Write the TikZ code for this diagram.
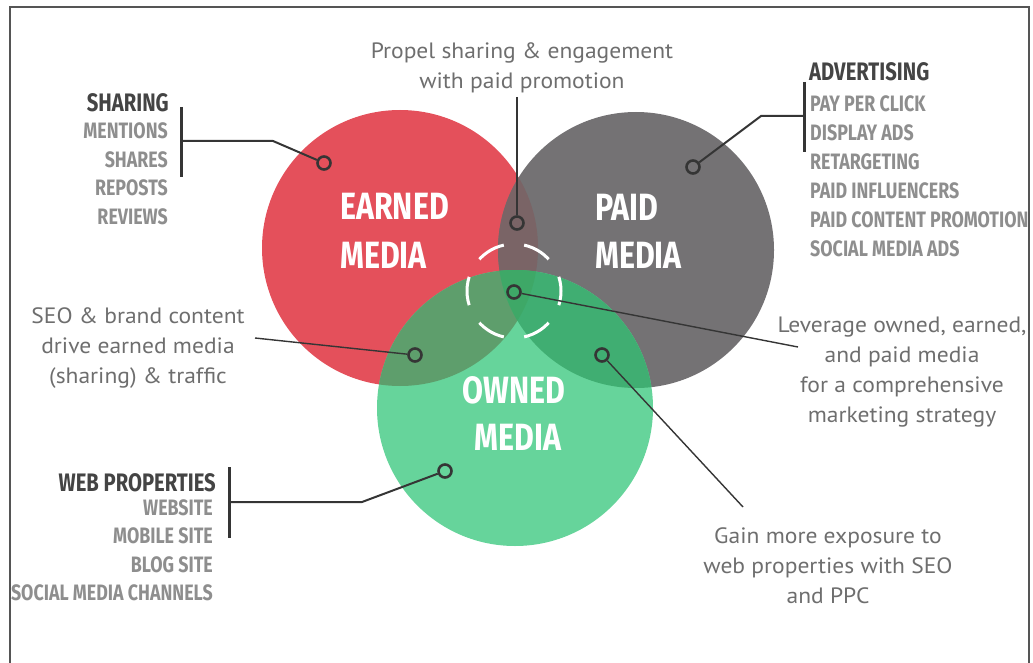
\documentclass[tikz,border=0pt]{standalone}
\usepackage{fontspec}
\setmainfont{PT Sans}
\newfontfamily\headfont[FakeStretch=0.8]{Fira Sans}
\newfontfamily\notefont[FakeStretch=1.06]{PT Sans}

\definecolor{earned}{HTML}{E4505B}
\definecolor{paid}{HTML}{747274}
\definecolor{owned}{HTML}{66D49B}
\definecolor{earnpaid}{HTML}{7A6466}
\definecolor{earnown}{HTML}{5E9E6C}
\definecolor{paidown}{HTML}{40AE72}
\definecolor{allthree}{HTML}{3EA867}
\definecolor{ink}{HTML}{353535}
\definecolor{listgrey}{HTML}{8E8E8E}
\definecolor{headgrey}{HTML}{444444}
\definecolor{notegrey}{HTML}{6E6E6E}
\definecolor{framegrey}{HTML}{555555}

\tikzset{
  dot/.style={circle, draw=ink, line width=2.6pt, minimum size=13pt, inner sep=0pt},
  lead/.style={draw=ink, line width=2pt},
  thinlead/.style={draw=ink, line width=1.4pt},
  bar/.style={draw=ink, line width=3pt},
  bighead/.style={text=white, font=\headfont\bfseries\fontsize{38}{38}\selectfont, inner sep=0pt},
  listhead/.style={text=headgrey, font=\headfont\bfseries\fontsize{25.3}{25}\selectfont, inner sep=0pt},
  listitem/.style={text=listgrey, font=\headfont\bfseries\fontsize{22.3}{22}\selectfont, inner sep=0pt},
  note/.style={text=notegrey, align=center, font=\notefont\fontsize{22.2}{30}\selectfont, inner sep=0pt},
}

\begin{document}
\begin{tikzpicture}[x=1pt, y=-1pt]
\useasboundingbox (0,0) rectangle (1033,663);

% open frame
\draw[framegrey, line width=2pt] (9.5,663) -- (9.5,7.5) -- (1029,7.5) -- (1029,663);

% the three circles and their overlaps
\coordinate (E) at (400,248);
\coordinate (P) at (636,250);
\coordinate (O) at (515,408);
\def\R{138}
\fill[earned] (E) circle (\R);
\fill[paid] (P) circle (\R);
\fill[owned] (O) circle (\R);
\begin{scope}
  \clip (E) circle (\R);
  \fill[earnpaid] (P) circle (\R);
  \fill[earnown] (O) circle (\R);
\end{scope}
\begin{scope}
  \clip (P) circle (\R);
  \fill[paidown] (O) circle (\R);
  \clip (O) circle (\R);
  \fill[allthree] (E) circle (\R);
\end{scope}

% dashed ring around the common area
\draw[white, line width=3pt, dash pattern=on 28.7pt off 20.5pt, dash phase=14.35pt] (514,291) circle (47);

% circle titles
\node[bighead, anchor=west] (tE1) at (340,206) {EARNED};
\node[bighead, anchor=west] (tE2) at (340,255) {MEDIA};
\node[bighead, anchor=west] (tP1) at (595,207) {PAID};
\node[bighead, anchor=west] (tP2) at (595,255) {MEDIA};
\node[bighead] (tO1) at (514,390) {OWNED};
\node[bighead] (tO2) at (518,437) {MEDIA};

% marker dots
\node[dot] (dE)  at (324,163) {};
\node[dot] (dP)  at (693,167) {};
\node[dot] (dO)  at (445,471) {};
\node[dot] (dEP) at (517,223) {};
\node[dot] (dC)  at (514,292) {};
\node[dot] (dEO) at (415,355) {};
\node[dot] (dPO) at (602,355) {};

% sharing list
\node[listhead, anchor=east] (hS) at (169,103) {SHARING};
\foreach \t [count=\i] in {MENTIONS,SHARES,REPOSTS,REVIEWS}
  \node[listitem, anchor=east] (s\i) at (168,{102.5+28.5*\i}) {\t};
\coordinate (bS1) at (181,107);
\coordinate (bS2) at (181,177);
\coordinate (bSm) at (181,141);
\coordinate (kS) at (273,141);
\draw[bar] (bS1) -- (bS2);
\draw[lead] (bSm) -- (kS) -- (dE);

% advertising list
\node[listhead, anchor=west] (hA) at (809,72) {ADVERTISING};
\foreach \t [count=\i] in {PAY PER CLICK,DISPLAY ADS,RETARGETING,PAID INFLUENCERS,PAID CONTENT PROMOTION,SOCIAL MEDIA ADS}
  \node[listitem, anchor=west] (a\i) at (810,{75+29*\i}) {\t};
\coordinate (bA1) at (804,82);
\coordinate (bA2) at (804,152);
\coordinate (bAm) at (804,116);
\coordinate (kA) at (761,116);
\draw[bar] (bA1) -- (bA2);
\draw[lead] (bAm) -- (kA) -- (dP);

% web properties list
\node[listhead, anchor=east] (hW) at (216,483) {WEB PROPERTIES};
\foreach \t [count=\i] in {WEBSITE,MOBILE SITE,BLOG SITE,SOCIAL MEDIA CHANNELS}
  \node[listitem, anchor=east] (w\i) at (213,{479+28.5*\i}) {\t};
\coordinate (bW1) at (229,467);
\coordinate (bW2) at (229,538);
\coordinate (bWm) at (229,502);
\coordinate (kW) at (362,502);
\draw[bar] (bW1) -- (bW2);
\draw[lead] (bWm) -- (kW) -- (dO);

% explanatory notes
\node[note] (nTop) at (522,68) {Propel sharing \& engagement\\with paid promotion};
\node[note] (nSEO) at (138,348) {SEO \& brand content\\drive earned media\\(sharing) \& traffic};
\node[note] (nLev) at (902,372) {Leverage owned, earned,\\and paid media\\for a comprehensive\\marketing strategy};
\node[note] (nGain) at (828,566) {Gain more exposure to\\web properties with SEO\\and PPC};

\coordinate (eTop) at (517,97);
\coordinate (eSEO) at (255,338);
\coordinate (eLev) at (798,347);
\coordinate (eGain) at (743,507);
\draw[thinlead] (eTop) -- (dEP);
\draw[thinlead] (eSEO) -- (dEO);
\draw[thinlead] (eLev) -- (dC);
\draw[thinlead] (eGain) -- (dPO);
\end{tikzpicture}
\end{document}
